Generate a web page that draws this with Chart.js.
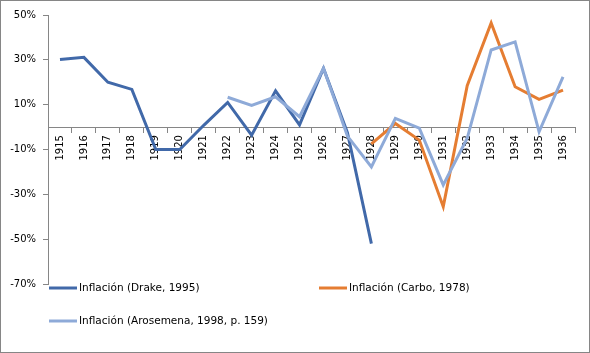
<!DOCTYPE html>
<html>
<head>
<meta charset="utf-8">
<script src="https://cdn.jsdelivr.net/npm/chart.js@4"></script>
<style>
  html, body { margin: 0; padding: 0; background: #fff; }
  #wrap { width: 590px; height: 353px; }
</style>
</head>
<body>
<div id="wrap"><canvas id="inflacionChart" width="590" height="353"></canvas></div>
<script>
// Inflación anual (%), 1915-1936
const years = ["1915", "1916", "1917", "1918", "1919", "1920", "1921", "1922", "1923", "1924", "1925",
  "1926", "1927", "1928", "1929", "1930", "1931", "1932", "1933", "1934", "1935", "1936"];

const drake = [30.2, 31.1, 20, 16.8, -10, -10, 0.8, 11, -3.6, 16.2, 1, 26.2, -2.5, -52,
  null, null, null, null, null, null, null, null];

const carbo = [null, null, null, null, null, null, null, null, null, null, null, null, null,
  -7.5, 1.6, -5.8, -35.5, 18.5, 46.4, 18, 12.4, 16.5];

const arosemena = [null, null, null, null, null, null, null,
  13.3, 9.7, 13.5, 4.6, 26.2, -4, -17.8, 3.9, -0.5, -25.8, -5, 34.4, 38, -2.1, 22.4];

const seriesNames = ["Inflación (Drake, 1995)", "Inflación (Carbo, 1978)", "Inflación (Arosemena, 1998, p. 159)"];

const yTicks = [-70, -50, -30, -10, 10, 30, 50];

const FONT = "'DejaVu Sans', Verdana, sans-serif";

// borde gris del área del gráfico + leyenda estilo Excel (2 columnas)
const excelFrame = {
    id: "excelFrame",
    afterDraw(chart) {
        const ctx = chart.ctx;
        ctx.save();
        ctx.strokeStyle = "#868686";
        ctx.lineWidth = 1;
        ctx.strokeRect(0.5, 0.5, chart.width - 1, chart.height - 1);

        const slots = [[49, 288], [319, 288], [49, 321]];
        ctx.font = "10.5px " + FONT;
        ctx.textBaseline = "middle";
        ctx.textAlign = "left";
        chart.data.datasets.forEach(function (ds, i) {
            const s = slots[i];
            ctx.strokeStyle = ds.borderColor;
            ctx.lineWidth = 3;
            ctx.beginPath();
            ctx.moveTo(s[0], s[1]);
            ctx.lineTo(s[0] + 28, s[1]);
            ctx.stroke();
            ctx.fillStyle = "#000";
            ctx.fillText(ds.label, s[0] + 30, s[1] + 0.5);
        });
        ctx.restore();
    }
};

new Chart(document.getElementById("inflacionChart"), {
    type: "line",
    data: {
        labels: years,
        datasets: [{
            label: seriesNames[0],
            data: drake,
            borderColor: "#4169a9",
            order: 3
        }, {
            label: seriesNames[1],
            data: carbo,
            borderColor: "#e57d32",
            order: 2
        }, {
            label: seriesNames[2],
            data: arosemena,
            borderColor: "#8eaad8",
            order: 1
        }]
    },
    options: {
        responsive: false,
        animation: false,
        events: [],
        elements: {
            line: { tension: 0, borderWidth: 3, fill: false },
            point: { radius: 0 }
        },
        layout: {
            padding: { top: 15, right: 15, bottom: 69, left: 0 }
        },
        plugins: {
            legend: { display: false },
            title: { display: false },
            tooltip: { enabled: false }
        },
        scales: {
            x: {
                position: { y: 0 },
                offset: true,
                grid: {
                    offset: true,
                    drawOnChartArea: false,
                    drawTicks: true,
                    tickLength: 5,
                    color: "#868686"
                },
                border: { color: "#868686" },
                ticks: {
                    autoSkip: false,
                    minRotation: 90,
                    maxRotation: 90,
                    padding: 3,
                    color: "#000",
                    font: { family: FONT, size: 10 }
                }
            },
            y: {
                min: -70,
                max: 50,
                afterFit: function (scale) { scale.width = 48; },
                afterBuildTicks: function (scale) {
                    scale.ticks = yTicks.map(function (v) { return { value: v }; });
                },
                grid: {
                    drawOnChartArea: false,
                    drawTicks: true,
                    tickLength: 5,
                    color: "#868686"
                },
                border: { color: "#868686" },
                ticks: {
                    padding: 7,
                    color: "#000",
                    font: { family: FONT, size: 10 },
                    callback: function (v) { return v + "%"; }
                }
            }
        }
    },
    plugins: [excelFrame]
});
</script>
</body>
</html>
